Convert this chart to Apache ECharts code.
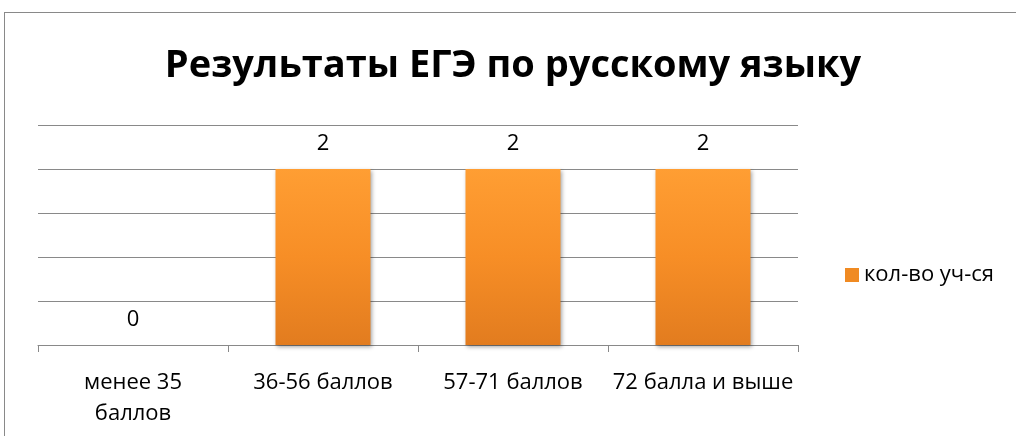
<!DOCTYPE html>
<html><head><meta charset="utf-8">
<script src="https://cdn.jsdelivr.net/npm/echarts@6/dist/echarts.min.js"></script>
<style>html,body{margin:0;padding:0;background:#fff}#c{width:1016px;height:436px}
#frame{position:absolute;left:4px;top:12px;width:1100px;height:500px;border:1px solid #898989;pointer-events:none}</style>
</head><body><div id="c"></div><div id="frame"></div>
<script>
const titleText = 'Результаты ЕГЭ по русскому языку';
const categories = ['менее 35\nбаллов', '36-56 баллов', '57-71 баллов', '72 балла и выше'];
const seriesName = 'кол-во уч-ся';
const values = [0, 2, 2, 2];
const yMin = 0, yMax = 2.5, yInterval = 0.5;

const font = 'Open Sans';
const chart = echarts.init(document.getElementById('c'));
const barColor = new echarts.graphic.LinearGradient(0, 0, 0, 1, [
  {offset: 0, color: '#FF9E33'},
  {offset: 0.5, color: '#F78E26'},
  {offset: 1, color: '#E27C1F'}
]);
chart.setOption({
  animation: false,
  title: {text: titleText, left: 508, textAlign: 'center', top: 42,
    textStyle: {fontFamily: font, fontWeight: 'bold', fontSize: 38, color: '#000'}},
  legend: {left: 840, top: 259, itemWidth: 14, itemHeight: 14, itemGap: 5,
    icon: 'rect', textStyle: {fontFamily: font, fontSize: 22, color: '#000'},
    data: [{name: seriesName, itemStyle: {color: '#F08A22'}}]},
  grid: {left: 38, right: 218, top: 125, bottom: 91, containLabel: false},
  xAxis: {type: 'category', data: categories,
    axisLine: {lineStyle: {color: '#898989', width: 1}},
    axisTick: {show: true, length: 7, lineStyle: {color: '#898989'}},
    axisLabel: {interval: 0, margin: 22, fontFamily: font, fontSize: 22, color: '#000', lineHeight: 31}},
  yAxis: {type: 'value', min: yMin, max: yMax, interval: yInterval,
    axisLabel: {show: false}, axisLine: {show: false}, axisTick: {show: false},
    splitLine: {lineStyle: {color: '#898989', width: 1}}},
  series: [{name: seriesName, type: 'bar', data: values, barWidth: '50%',
    itemStyle: {color: barColor, borderWidth: 0,
      shadowColor: 'rgba(0,0,0,0.35)', shadowBlur: 4, shadowOffsetX: 1, shadowOffsetY: 2},
    label: {show: true, position: 'top', distance: 14, fontFamily: font, fontSize: 22, color: '#000'}}]
});
</script></body></html>
